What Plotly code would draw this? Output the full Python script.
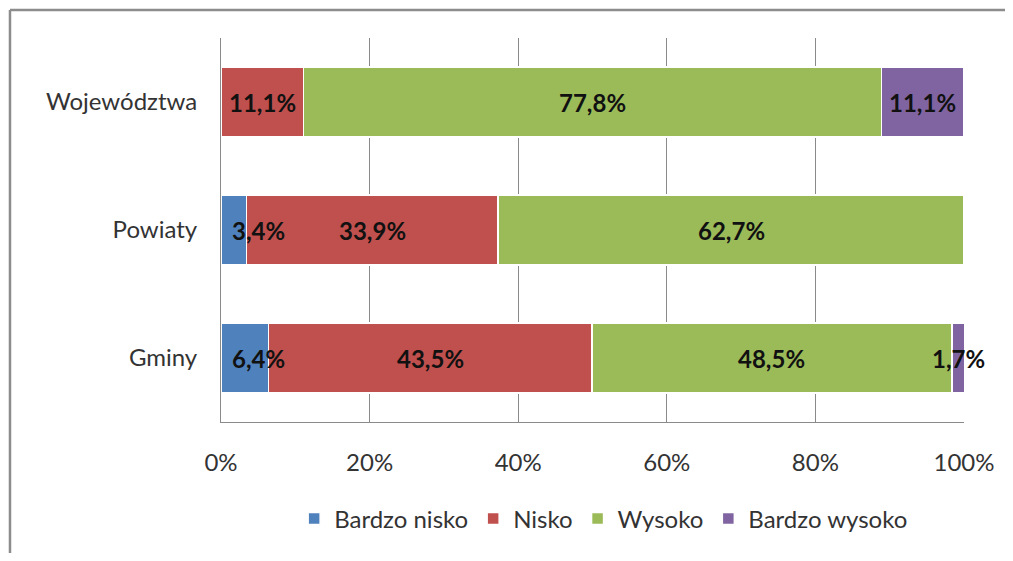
import plotly.graph_objects as go

categories = ["Gminy", "Powiaty", "Województwa"]
series_names = ["Bardzo nisko", "Nisko", "Wysoko", "Bardzo wysoko"]
bardzo_nisko = [6.4, 3.4, 0.0]
nisko = [43.5, 33.9, 11.1]
wysoko = [48.5, 62.7, 77.8]
bardzo_wysoko = [1.7, 0.0, 11.1]
colors = ["#4F81BD", "#C0504D", "#9BBB59", "#8064A2"]
tick_vals = [0, 20, 40, 60, 80, 100]
tick_text = ["0%", "20%", "40%", "60%", "80%", "100%"]

series = [bardzo_nisko, nisko, wysoko, bardzo_wysoko]
FONT = "Lato, 'Open Sans', sans-serif"

fig = go.Figure()
for name, vals, col in zip(series_names, series, colors):
    fig.add_trace(go.Bar(
        y=categories, x=vals, name=name, orientation="h",
        marker=dict(color=col, line=dict(color="white", width=1.5)),
        hoverinfo="x+y+name",
    ))

annotations = []
starts = [0.0] * len(categories)
for vals in series:
    for i, v in enumerate(vals):
        if v > 0:
            mid = starts[i] + v / 2
            xpos = max(mid, 5.0)
            annotations.append(dict(
                x=xpos, y=categories[i], xref="x", yref="y",
                text="<b>" + f"{v:.1f}".replace(".", ",") + "%</b>",
                showarrow=False, font=dict(family=FONT, size=24, color="#111111"),
                xanchor="center", yanchor="middle",
            ))
        starts[i] += v

border = dict(color="#8c8c8c", width=2.5)
fig.update_layout(
    barmode="stack",
    bargap=0.45,
    width=1005, height=545,
    margin=dict(l=213, r=49, t=30, b=131, autoexpand=False),
    paper_bgcolor="white", plot_bgcolor="white",
    font=dict(family=FONT, size=24, color="#333333"),
    showlegend=True,
    legend=dict(orientation="h", x=0.515, xanchor="center", y=-0.2526, yanchor="middle",
                font=dict(family=FONT, size=24, color="#333333"), traceorder="normal",
                itemwidth=30),
    annotations=annotations,
    shapes=[
        dict(type="line", xref="paper", yref="paper", x0=-0.284, x1=1.25, y0=1.073, y1=1.073,
             line=border, layer="below"),
        dict(type="line", xref="paper", yref="paper", x0=-0.284, x1=-0.284, y0=1.073, y1=-0.45,
             line=border, layer="below"),
    ],
    xaxis=dict(range=[0, 100], tickvals=tick_vals, ticktext=tick_text, automargin=False,
               showgrid=True, gridcolor="#8a8a8a", gridwidth=1,
               showline=True, linecolor="#8a8a8a", linewidth=1, mirror=False,
               zeroline=False, ticks="", ticklabelstandoff=19,
               tickfont=dict(family=FONT, size=24, color="#333333")),
    yaxis=dict(showgrid=False, showline=True, linecolor="#8a8a8a", linewidth=1,
               ticks="", ticklabelstandoff=18, range=[-0.5, 2.5], automargin=False,
               tickfont=dict(family=FONT, size=24, color="#333333")),
)

fig.write_html("out.html")
